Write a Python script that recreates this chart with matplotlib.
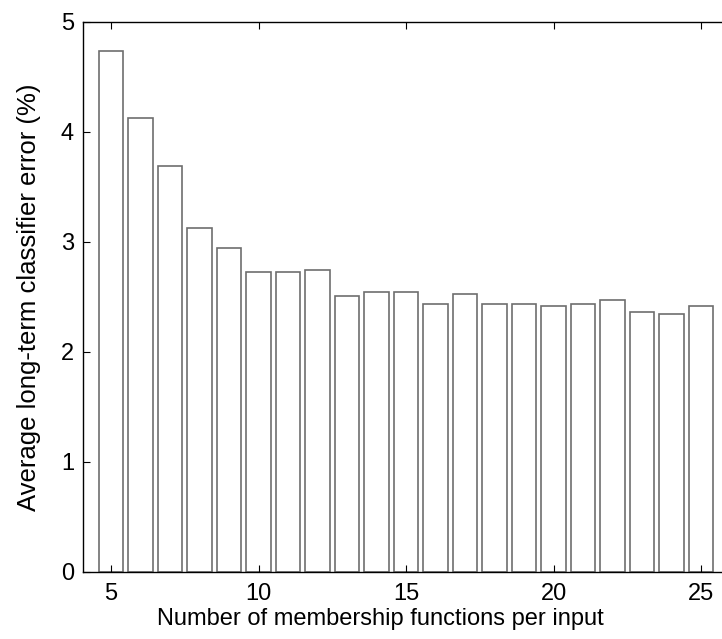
import numpy as np
import matplotlib
matplotlib.use("Agg")
import matplotlib.pyplot as plt

plt.rcParams['font.family'] = ['Liberation Sans', 'DejaVu Sans']

# Number of membership functions per input and the mean error (%)
n_mf = [5, 6, 7, 8, 9, 10, 11, 12, 13, 14, 15, 16, 17, 18, 19, 20, 21, 22, 23, 24, 25]
error = [4.74, 4.125, 3.69, 3.125, 2.94, 2.725, 2.725, 2.745, 2.507, 2.544, 2.544,
         2.435, 2.525, 2.435, 2.435, 2.416, 2.435, 2.47, 2.36, 2.344, 2.416]

fig = plt.figure(figsize=(7.22, 6.39), dpi=100)
ax = fig.add_axes([0.115, 0.1056, 0.885, 0.86])

ax.bar(n_mf, error, width=0.84, facecolor='white', edgecolor='#6e6e6e', linewidth=1.2)

ax.set_xlim(4.05, 25.71)
ax.set_ylim(0, 5)
ax.set_xticks([5, 10, 15, 20, 25])
ax.set_yticks([0, 1, 2, 3, 4, 5])
ax.tick_params(direction='in', length=5, width=0.8, labelsize=17, top=True)
ax.tick_params(axis='x', pad=8.3)
ax.tick_params(axis='y', pad=6.5)
ax.spines['right'].set_visible(False)
for s in ['left', 'bottom', 'top']:
    ax.spines[s].set_linewidth(1.0)

ax.set_xlabel('Number of membership functions per input', fontsize=17)
ax.set_ylabel('Average long-term classifier error (%)', fontsize=18.5)
ax.xaxis.set_label_coords(0.465, -0.066)
ax.yaxis.set_label_coords(-0.066, 0.5)

fig.savefig('out.png', dpi=100)
